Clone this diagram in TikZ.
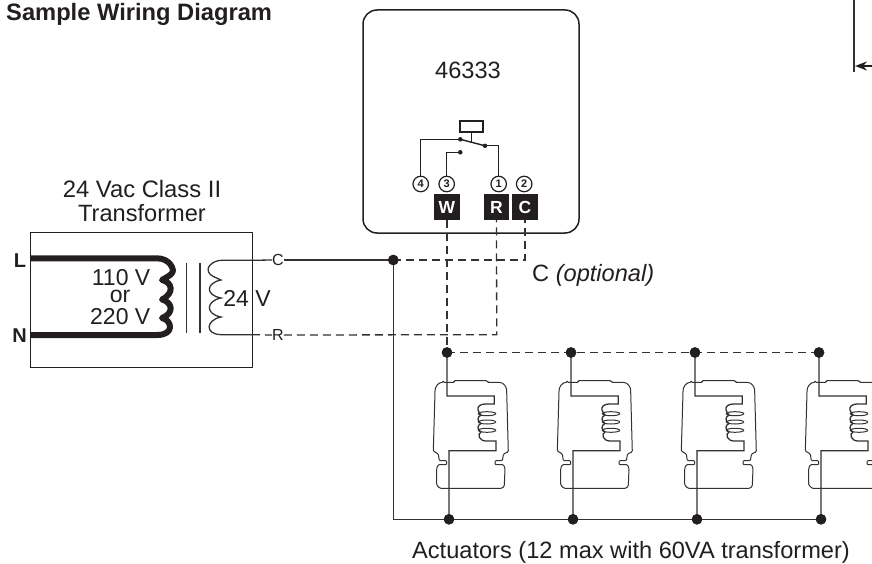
\documentclass[tikz,border=0pt]{standalone}
\usepackage{fontspec}
\setmainfont{Liberation Sans}
\usetikzlibrary{arrows.meta}
\definecolor{ink}{HTML}{231F20}
\definecolor{wire}{HTML}{333132}
\tikzset{
  thin wire/.style={draw=wire,line width=1.3pt},
  dash wire/.style={draw=wire,line width=1.3pt,dash pattern=on 8pt off 5pt},
  wdot/.style={circle,fill=ink,inner sep=0pt,minimum size=10.5pt},
  sdot/.style={circle,fill=ink,inner sep=0pt,minimum size=4.5pt},
  termnum/.style={circle,draw=ink,line width=1.2pt,inner sep=0pt,minimum size=15.5pt,font=\fontsize{11}{11}\selectfont\bfseries,text=ink},
  termbox/.style={fill=ink,inner sep=0pt,minimum size=25.5pt,font=\fontsize{17.5}{18}\selectfont\bfseries,text=white},
  lbl/.style={inner sep=0pt,text=ink,font=\fontsize{23.6}{24}\selectfont},
  blbl/.style={inner sep=0pt,text=ink,font=\fontsize{23.7}{24}\selectfont\bfseries},
  vlbl/.style={inner sep=0pt,text=ink,font=\fontsize{23}{23}\selectfont},
}
\begin{document}
\begin{tikzpicture}[x=1pt,y=-1pt]
\useasboundingbox (0,0) rectangle (872,564);
\clip (0,0) rectangle (872,564);
\fill[white] (0,0) rectangle (872,564);

\node[blbl,anchor=west] (title) at (6,14) {Sample Wiring Diagram};

% controller
\node[draw=ink,line width=1.5pt,rounded corners=14pt,minimum width=216pt,minimum height=223pt,inner sep=0pt] (ctrl) at (471,121.5) {};
\node[lbl] (model) at (468,70) {46333};
\node[draw=ink,line width=1.4pt,minimum width=23pt,minimum height=11pt,inner sep=0pt] (relay) at (471.5,126.5) {};
\node[sdot] (k1) at (460.3,139.3) {};
\node[sdot] (k2) at (485,145.8) {};
\node[sdot] (k3) at (460.3,152.3) {};
\node[termnum] (t4) at (420.7,184) {4};
\node[termnum] (t3) at (446.7,184) {3};
\node[termnum] (t1) at (498.7,184) {1};
\node[termnum] (t2) at (524.2,184) {2};
\node[termbox] (W) at (447,207.2) {W};
\node[termbox] (R) at (496.5,207.2) {R};
\node[termbox] (C) at (525,207.2) {C};
\draw[draw=ink,line width=1.4pt] (relay.south) -- (471.5,142.5);
\draw[draw=ink,line width=1.4pt] (k1.center) -- (k2.center);
\draw[draw=ink,line width=1.4pt] (k1.center) -| (t4.north);
\draw[draw=ink,line width=1.4pt] (k3.center) -| (t3.north);
\draw[draw=ink,line width=1.4pt] (k2.center) -| (t1.north);

% transformer
\node[lbl,align=center] (xftitle) at (142,201) {\fontsize{23.8}{24}\selectfont 24 Vac Class II\\Transformer};
\node[draw=ink,line width=1.4pt,minimum width=222pt,minimum height=134.5pt,inner sep=0pt] (xf) at (141.3,300) {};
\node[blbl,font=\fontsize{20}{20}\selectfont\bfseries] (L) at (20,261) {L};
\node[blbl,font=\fontsize{20}{20}\selectfont\bfseries] (N) at (19.5,335.5) {N};
\coordinate (Lin) at (30,258.3);
\coordinate (Nin) at (30,335);
\draw[draw=ink,line width=6pt,line join=round]
  (Lin) -- (157,258.3)
  .. controls (170,258.3) and (175,270) .. (172,273)
  .. controls (170,276) and (165,278) .. (162,280)
  .. controls (172,282) and (175,293) .. (162,299.5)
  .. controls (172,302) and (175,313) .. (162,318)
  .. controls (172,320) and (175,335) .. (157,335)
  -- (Nin);
\draw[thin wire] (186.3,263) -- (186.3,333);
\draw[thin wire] (200,263) -- (200,333);
\coordinate (Cout) at (252,260.3);
\coordinate (Rout) at (252,334.7);
\draw[thin wire]
  (Cout) -- (222,260.3)
  .. controls (212,260.3) and (206,268) .. (208.5,272)
  .. controls (210,276) and (217,278) .. (221,280)
  .. controls (206,283) and (205,295) .. (221,298)
  .. controls (206,301) and (205,314) .. (221,317)
  .. controls (206,320) and (204,334.7) .. (222,334.7)
  -- (Rout);
\node[vlbl,anchor=east] (v110) at (150.5,278) {110 V};
\node[vlbl] (vor) at (120,296.5) {or};
\node[vlbl,anchor=east] (v220) at (150.5,316.7) {220 V};
\node[vlbl] (v24) at (247,298.5) {24 V};
\node[inner sep=0pt,text=ink,font=\fontsize{16}{16}\selectfont] (clab) at (278,260) {C};
\node[inner sep=0pt,text=ink,font=\fontsize{16}{16}\selectfont] (rlab) at (278,335) {R};
\node[lbl,anchor=west] (copt) at (532,275) {C \textit{(optional)}};

% bus nodes
\node[wdot] (J) at (393.3,260) {};
\coordinate (BL) at (393.3,519.3);
\coordinate (Rc) at (496.7,334.7);
\coordinate (Cc) at (525,260);
\foreach \i/\xa/\xb in {1/447/449,2/571/573,3/695/697,4/819/821}{
  \node[wdot] (top\i) at (\xa,352.5) {};
  \node[wdot] (bot\i) at (\xb,519.3) {};
}
% wiring
\draw[thin wire] (Cout) -- (clab.west);
\draw[thin wire] (clab.east) -- (J.center);
\draw[thin wire] (J.center) -- (BL) -- (bot4.center);
\draw[dash wire] (Rout) -- (rlab.west);
\draw[dash wire] (rlab.east) -- (Rc) -- (R.south);
\draw[dash wire] (J.center) -- (Cc) -- (C.south);
\draw[dash wire] (W.south) -- (top1.center);
\draw[dash wire] (top1.center) -- (top4.center);

% actuators
\foreach \i/\dx in {1/0,2/124,3/248,4/372}{
\begin{scope}[shift={(\dx,0)}]
  \draw[thin wire,line width=1pt,rounded corners=1pt]
    (443.3,382.3) -- (454.3,382.3) -- (454.3,380.7) -- (487,380.7) -- (487.7,382.3) -- (498,382.3)
    .. controls (504,382.3) and (506.7,387) .. (506.7,392)
    -- (508.3,451.7) -- (503.5,454) -- (502.3,460.7) -- (495,460.7) -- (495,464.7) -- (503.5,464.7) -- (505,468.3)
    -- (504.3,486) -- (502,488.3) -- (440,488.3) -- (436.7,485) -- (436.7,468.3) -- (438.3,464.7)
    -- (446.7,464.7) -- (446.7,460.7) -- (439.3,460.7) -- (438.3,454) -- (433.3,451) -- (435,392)
    .. controls (435,387) and (438,382.3) .. (443.3,382.3) -- cycle;
  \draw[thin wire]
    (447,352.5) -- (447,396) -- (494.3,396) -- (494.3,404) -- (485,404)
    .. controls (480,404) and (477,407) .. (478,410)
    .. controls (478.5,412) and (480,414) .. (481,415)
    .. controls (477,417) and (477,421) .. (481,423.5)
    .. controls (477,425) and (477,430) .. (481,432)
    .. controls (477,434) and (479,441) .. (486,441)
    -- (496,441) -- (496,450.7) -- (449,450.7) -- (449,519.3);
  \draw[thin wire,line width=1pt] (487,413.7) ellipse (8.7pt and 2pt);
  \draw[thin wire,line width=1pt] (487,422) ellipse (8.7pt and 2pt);
  \draw[thin wire,line width=1pt] (487,430.3) ellipse (8.7pt and 2pt);
\end{scope}}
\foreach \i in {1,2,3,4}{\node[wdot] at (top\i) {}; \node[wdot] at (bot\i) {};}
\node[wdot] at (J) {};

\node[lbl,anchor=west] (act) at (412,552) {Actuators (12 max with 60VA transformer)};

% cropped dimension at upper right
\coordinate (dimT) at (854,0);
\coordinate (dimB) at (854,72);
\coordinate (dimE) at (872,66);
\coordinate (dimH) at (855,66);
\draw[draw=wire,line width=1.4pt] (dimT) -- (dimB);
\draw[draw=ink,line width=1.5pt,-{Stealth[length=12pt,width=9pt]}] (dimE) -- (dimH);
\end{tikzpicture}
\end{document}
